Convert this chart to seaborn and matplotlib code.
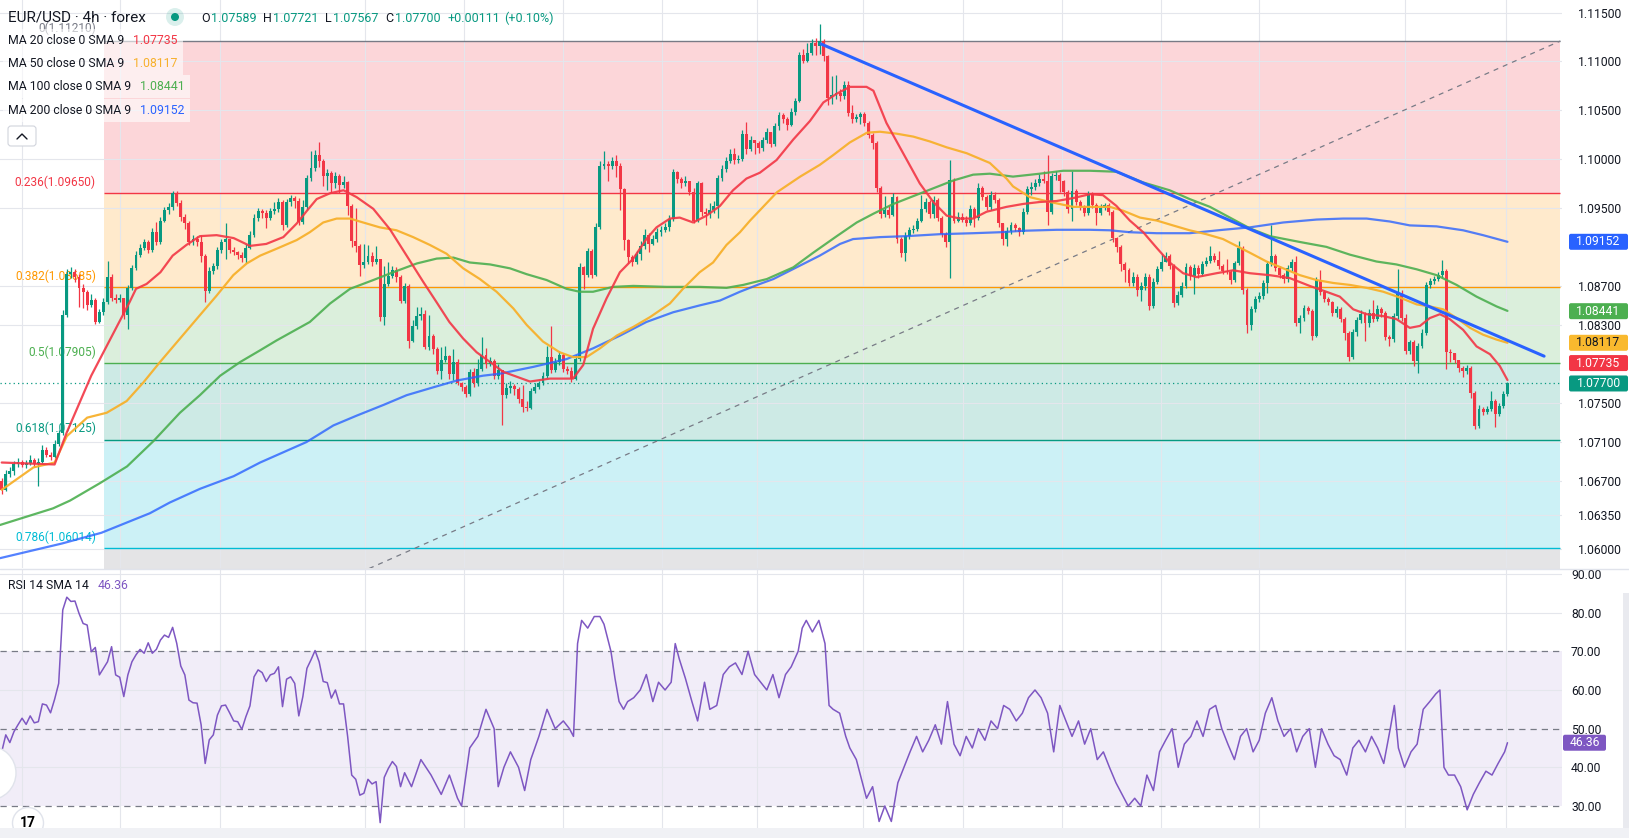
import numpy as np
import pandas as pd
import seaborn as sns
import matplotlib.pyplot as plt
from matplotlib.patches import Rectangle, Circle, FancyBboxPatch
from matplotlib.lines import Line2D
from matplotlib.transforms import IdentityTransform

W, H = 1629, 838

# EUR/USD 4h candles, in pips above 1.0000 (661 -> 1.0661)
first_open = 670
closes = [
    661, 677, 680, 687, 690, 686, 689, 692, 687, 690, 702, 697, 695, 708, 719, 840, 882, 884, 879, 868,
    864, 850, 856, 833, 843, 853, 879, 858, 856, 858, 840, 868, 888, 902, 909, 915, 907, 925, 915, 937,
    948, 951, 965, 955, 941, 934, 915, 918, 915, 901, 865, 885, 890, 907, 915, 918, 907, 905, 902, 899,
    909,
    922, 940, 947, 945, 940, 947, 949, 956, 932, 956, 960, 957, 935, 951, 981, 991, 1004, 998, 983, 986,
    975, 983, 973, 976, 952, 916, 911, 891, 894, 901, 894, 898, 838, 872, 880, 886, 879, 855, 870, 814,
    829, 839, 841, 807, 819, 805, 783, 794, 798, 780, 792, 770, 766, 759, 782, 770, 785, 799, 790, 793,
    778, 784,
    758, 765, 767, 764, 754, 746, 745, 762, 766, 770, 778, 797, 784, 792, 799, 785, 783, 775, 795, 889,
    881, 906, 881, 930, 993, 995, 993, 998, 993, 969, 917, 900, 895, 903, 911, 922, 913, 918, 925, 927,
    930, 939, 987, 980, 975, 978, 966, 937, 975, 946, 944, 948, 952, 981, 990, 998, 1005, 999, 1000, 1026,
    1010,
    1020, 1016, 1011, 1020, 1028, 1015, 1034, 1045, 1041, 1035, 1048, 1060, 1107, 1100, 1109,
    1119, 1116, 1121, 1106, 1063, 1066, 1068, 1065, 1076, 1047, 1041, 1043, 1046, 1037, 1025, 1016, 970, 944,
    948, 943, 961, 918, 904, 921, 927, 928, 937, 949, 956, 944, 958, 940, 923, 915, 979, 937, 941, 938,
    934, 949, 940, 970, 961, 951, 963, 958, 934,
    918, 926, 932, 929, 925, 946, 969, 971, 975, 980, 978, 946, 983, 984, 977, 966, 949, 967, 956, 951,
    945, 964, 953, 945, 950, 953, 946, 919, 910, 892, 886, 873, 879, 866, 870, 879, 849, 874, 887, 895,
    901, 890, 852, 861, 870, 889, 880, 888, 882, 892, 896, 901, 897, 890, 885, 884, 876, 893, 909, 866,
    830,
    846, 857, 860, 873, 892, 901, 888, 881, 877, 888, 894, 832, 837, 847, 844, 819, 876, 864, 857, 853,
    842, 846, 836, 822, 797, 823, 835, 841, 832, 842, 836, 846, 842, 818, 816, 839, 863, 837, 803, 812,
    793, 808, 822, 871, 875, 877, 881, 885, 802, 801, 794, 786, 783, 786, 760, 726, 744, 741, 744, 752,
    739, 747, 759, 770,
]
highs = [
    673, 681, 684, 691, 694, 692, 692, 697, 694, 694, 707, 705, 700, 712, 722, 845, 887, 889, 887, 882,
    872, 866, 862, 858, 846, 858, 896, 882, 862, 862, 858, 871, 891, 906, 913, 918, 917, 929, 936, 941,
    951, 955, 967, 967, 958, 944, 937, 922, 921, 922, 903, 889, 893, 910, 918, 934, 918, 910, 906, 905,
    913,
    926, 944, 950, 949, 948, 950, 956, 960, 958, 959, 963, 962, 960, 958, 984, 1008, 1009, 1017, 1000, 990,
    988, 987, 985, 983, 978, 954, 950, 913, 913, 912, 905, 911, 898, 890, 895, 890, 889, 881, 873, 872,
    835, 848, 848, 845, 840, 821, 807, 807, 808, 799, 805, 795, 772, 768, 785, 786, 795, 818, 806, 797,
    795, 790,
    772, 770, 773, 769, 766, 768, 752, 765, 770, 773, 782, 808, 829, 796, 803, 801, 788, 787, 799, 893,
    890, 909, 908, 934, 998, 1008, 998, 1002, 1004, 996, 970, 918, 902, 906, 916, 928, 924, 922, 929, 931,
    934, 943, 990, 988, 982, 983, 974, 970, 978, 976, 950, 955, 957, 984, 994, 1002, 1010, 1011, 1004, 1030,
    1038,
    1024, 1020, 1018, 1023, 1032, 1028, 1037, 1048, 1047, 1043, 1052, 1063, 1110, 1113, 1119,
    1123, 1124, 1138, 1123, 1107, 1085, 1086, 1072, 1080, 1080, 1055, 1046, 1048, 1048, 1039, 1027, 1018, 972,
    962, 952, 965, 962, 920, 925, 930, 932, 940, 963, 960, 958, 962, 960, 942, 925, 999, 981, 946, 945,
    942, 953, 951, 975, 972, 963, 967, 966, 960,
    933, 930, 935, 934, 930, 950, 972, 976, 980, 985, 988, 1004, 986, 988, 986, 979, 968, 988, 969, 958,
    953, 967, 966, 955, 954, 955, 955, 948, 920, 912, 895, 888, 884, 882, 874, 883, 882, 878, 890, 903,
    905, 903, 892, 865, 874, 893, 891, 892, 891, 896, 900, 911, 904, 906, 892, 898, 886, 896, 916, 911,
    868,
    849, 860, 864, 876, 896, 932, 903, 890, 883, 891, 898, 901, 840, 850, 849, 846, 879, 886, 866, 859,
    855, 849, 848, 838, 824, 826, 838, 845, 843, 846, 856, 850, 848, 844, 820, 842, 887, 866, 841, 815,
    815, 811, 826, 874, 878, 880, 884, 897, 887, 805, 797, 793, 788, 789, 788, 762, 748, 746, 747, 762,
    754, 750, 762, 772,
]
lows = [
    657, 660, 674, 676, 684, 684, 683, 686, 684, 665, 688, 695, 692, 694, 706, 717, 838, 878, 874, 848,
    847, 845, 848, 831, 832, 840, 851, 855, 852, 853, 836, 826, 866, 886, 900, 907, 904, 905, 912, 913,
    935, 944, 948, 952, 937, 928, 912, 912, 911, 895, 854, 863, 882, 887, 904, 898, 904, 902, 898, 895,
    893,
    908, 920, 937, 940, 929, 938, 944, 946, 927, 930, 952, 950, 932, 933, 948, 977, 988, 992, 972, 968,
    965, 970, 965, 970, 943, 910, 905, 880, 888, 892, 890, 892, 834, 830, 870, 878, 874, 852, 852, 806,
    812, 826, 835, 805, 804, 800, 780, 775, 792, 775, 774, 768, 762, 756, 757, 766, 767, 783, 786, 788,
    775, 775,
    727, 755, 760, 758, 750, 741, 742, 744, 760, 764, 768, 776, 781, 782, 789, 782, 780, 772, 774, 793,
    867, 879, 878, 880, 928, 990, 978, 990, 982, 948, 907, 893, 890, 892, 897, 908, 905, 912, 915, 921,
    925, 926, 937, 975, 970, 972, 963, 934, 935, 942, 932, 940, 945, 940, 978, 987, 996, 995, 996, 998,
    1005,
    1008, 1005, 1006, 1008, 1016, 1012, 1013, 1030, 1037, 1030, 1034, 1045, 1058, 1098, 1099,
    1107, 1107, 1108, 1100, 1055, 1056, 1062, 1060, 1062, 1044, 1037, 1038, 1036, 1034, 1022, 1010, 966, 940,
    941, 940, 942, 914, 900, 896, 918, 924, 926, 935, 946, 940, 940, 937, 920, 910, 878, 934, 935, 935,
    931, 932, 930, 938, 958, 948, 948, 955, 930,
    912, 911, 923, 926, 921, 923, 944, 963, 968, 972, 975, 932, 944, 979, 966, 962, 945, 937, 953, 948,
    942, 943, 950, 932, 943, 948, 943, 915, 905, 885, 874, 870, 870, 860, 855, 866, 845, 847, 872, 885,
    894, 887, 848, 850, 859, 868, 876, 862, 878, 880, 890, 893, 894, 887, 882, 882, 872, 874, 891, 862,
    822,
    825, 843, 854, 857, 863, 890, 885, 878, 873, 874, 885, 829, 822, 834, 841, 815, 818, 861, 853, 850,
    839, 838, 833, 815, 793, 795, 819, 832, 814, 828, 833, 834, 838, 815, 808, 813, 836, 834, 800, 800,
    788, 781, 806, 820, 868, 872, 875, 878, 785, 792, 791, 782, 777, 780, 755, 723, 724, 738, 739, 742,
    725, 737, 745, 757,
]

# moving averages: (candle index, pips)
ma20 = [(0, 689), (13, 687), (16, 720), (22, 778), (25, 802), (28, 826), (31.5, 854), (33, 867), (35.6, 872),
        (39, 884), (42, 901), (45.4, 912), (48.7, 921), (52.8, 922), (57, 919), (61, 911), (65, 913),
        (69.2, 920), (72.5, 934), (75, 947), (77.4, 959), (80.7, 965), (84, 968), (87.2, 961), (91.3, 949),
        (95.4, 928), (99.5, 901), (103.6, 874), (106.9, 853), (110, 833), (113.4, 816), (116.7, 802),
        (120, 792), (123.2, 782), (126.5, 777), (129.8, 772), (134.7, 775), (140.4, 775), (142.9, 789),
        (145.3, 826), (148.6, 857), (151.9, 884), (155.2, 898), (158.4, 918), (160.9, 930), (164.2, 939),
        (166.6, 940), (169.9, 935), (173.2, 942), (176.5, 952), (179.7, 968), (183, 980), (186.3, 986),
        (190.4, 999), (194.5, 1020), (198.6, 1039), (201.9, 1058), (205.2, 1067), (208.4, 1074),
        (212.5, 1074), (214.2, 1070), (217.4, 1037), (221.5, 1006), (225.6, 975), (228.9, 956),
        (232.2, 942), (235.5, 939), (238.7, 939), (242, 946), (246.9, 951), (251, 954), (255.1, 956),
        (259.2, 957), (263.3, 960), (267.4, 964), (270.6, 963), (273.9, 952), (277.2, 937), (280.5, 925),
        (283.8, 909), (287, 894), (290.3, 883), (293.6, 879), (298.5, 883), (302.6, 886), (306.7, 883),
        (311.6, 881), (316.5, 878), (321.4, 870), (325.5, 864), (328.8, 859), (332.1, 846), (335.4, 841),
        (339.5, 839), (342.7, 836), (346, 827), (348.5, 829), (350.9, 837), (353.4, 841), (355.8, 836),
        (359.1, 825), (362.4, 808), (365.7, 800), (368.1, 788), (370, 773.5)]
ma50 = [(0, 661), (7.8, 684), (13, 689), (16, 716), (21, 735), (25.8, 740), (30.7, 752), (34.8, 771),
        (38.9, 792), (43.8, 816), (48.7, 840), (52.8, 860), (56.9, 881), (60.2, 893), (63.5, 901),
        (67.5, 908), (72.5, 917), (75.7, 925), (79, 935), (82.3, 939), (85.6, 939), (88.8, 935),
        (92.9, 930), (97, 927), (101.1, 920), (105.2, 912), (109.3, 903), (113.4, 888), (117.5, 877),
        (121.6, 864), (125.7, 847), (129, 830), (133, 813), (137.1, 802), (140.4, 797), (143.7, 797),
        (147, 806), (151.1, 819), (155.2, 828), (159.3, 838), (164.2, 852), (167.4, 867), (171.5, 884),
        (174.8, 894), (178.1, 912), (181.4, 925), (183.9, 937), (185.5, 944), (190.5, 966), (193.7, 975),
        (196.2, 982), (201, 994), (204.3, 1004), (208.4, 1017), (212.6, 1027), (215.8, 1028),
        (219.9, 1026), (224, 1023), (228.1, 1018), (232.2, 1012), (237.1, 1006), (242.8, 996),
        (246.9, 980), (248.5, 972), (252.6, 961), (257.6, 956), (263.3, 951), (267.4, 951), (272.3, 951),
        (275.6, 947), (279.7, 940), (283.8, 937), (287.8, 932), (291.9, 927), (296, 923), (300.1, 918),
        (303.4, 911), (306.7, 904), (310.8, 895), (314.9, 888), (319, 881), (323.1, 876), (327.2, 873),
        (331.3, 871), (335.4, 868), (339.5, 864), (343.6, 858), (347.7, 851), (350.9, 849), (354.2, 846),
        (357.5, 837), (360.8, 827), (364, 820), (367.3, 815), (370, 811.7)]
ma100 = [(-0.4, 625), (12.6, 642), (16.8, 650), (24.2, 668), (30.8, 685), (37.3, 711), (43.8, 740),
         (48.7, 758), (53.7, 778), (58.6, 792), (63.5, 804), (67.5, 814), (75.7, 833), (80.7, 852),
         (85.6, 867), (91.3, 876), (96.2, 884), (102, 893), (106.9, 898), (111, 899), (115, 894), (120, 892),
         (124.9, 888), (129, 882), (133.9, 876), (138.8, 867), (142, 864), (145.3, 864), (150.2, 869),
         (155.2, 870), (163.4, 869), (171.5, 869), (178.1, 868), (182.2, 871), (188, 877), (194.5, 889),
         (199.4, 904), (205.2, 921), (210.1, 935), (214.2, 944), (219.1, 954), (224, 962), (228.9, 970),
         (233.8, 978), (238.7, 984), (242.8, 985), (248.5, 982), (255.1, 985), (260.8, 988), (267.4, 988),
         (273.9, 987), (280.5, 976), (287, 968), (291.9, 959), (296.9, 951), (301.8, 940), (306.7, 929),
         (311.6, 921), (319, 915), (325.5, 910), (331.3, 902), (337.8, 895), (342.7, 892), (347.7, 887),
         (352.6, 881), (357.5, 871), (362.4, 859), (367.3, 849), (370, 844.4)]
ma200 = [(-0.4, 591), (14.8, 606), (24.5, 617), (36.4, 637), (41.3, 648), (48.7, 662), (57, 675),
         (63.5, 689), (74.9, 710), (81.5, 727), (87.2, 737), (93.8, 748), (99.5, 758), (106, 766),
         (111.8, 773), (118.3, 778), (122.4, 780), (130.6, 787), (138.8, 795), (145.3, 806), (151.9, 819),
         (158.4, 833), (165, 843), (171.5, 850), (176.5, 855), (181.4, 864), (186.3, 872), (189.6, 877),
         (195.3, 889), (201, 901), (206, 913), (209.2, 918), (215.8, 920), (222.4, 921), (230.5, 923),
         (238.7, 924), (245.3, 925), (251, 926.5), (259.2, 927.5), (267.4, 927.5), (272.3, 927),
         (277.2, 925), (283.8, 924), (291.9, 924), (300.1, 927.5), (306.7, 930), (314.9, 935), (323.1, 938),
         (329.6, 939), (335.4, 939), (341.1, 936), (346, 932), (352.6, 931), (359.1, 927), (364, 922),
         (370, 915.2)]
ma_legend = [("MA 20 close 0 SMA 9", "1.07735", "#f23645", 40.5),
             ("MA 50 close 0 SMA 9", "1.08117", "#f7b02c", 63),
             ("MA 100 close 0 SMA 9", "1.08441", "#4caf50", 86.5),
             ("MA 200 close 0 SMA 9", "1.09152", "#2962ff", 110)]

# RSI 14: one value per candle for the first 100, then traced points
rsi_head = [44, 48.4, 46.4, 49.2, 51, 52.7, 51.1, 53.3, 51.5, 51.8,
            56.4, 56.1, 54.1, 57.6, 61.7, 80.7, 84, 82.9, 83, 79.8,
            77.2, 76.8, 69.9, 71, 63.9, 65.6, 67.3, 71.2, 63.9, 63.3,
            58.3, 63.9, 67.3, 69.1, 70.5, 69.5, 72.2, 69.5, 70.5, 72.9,
            74.2, 73.6, 76.2, 72.1, 66.2, 63.9, 57.4, 56.7, 56.6, 51,
            41, 47.1, 48.4, 53.5, 55.9, 56.1, 54.1, 52, 51.8, 49.8,
            53.1, 55.9, 63.4, 65.2, 64.5, 62.2, 63.9, 64.3, 66, 55.7,
            62.8, 63.4, 61.7, 53.3, 58.3, 65.6, 67.8, 70.2, 67.3, 62.2,
            61.9, 57.9, 60, 56.4, 56.4, 48, 38, 36.9, 32.8, 33.3,
            36.9, 35.7, 36.3, 25.7, 37.4, 39.7, 41.5, 40.2, 35, 38.6]
rsi_tail = [(100.7, 35), (103, 42), (105.5, 38), (108, 33), (110, 38), (112, 32), (113, 30), (115, 45),
            (117, 48), (119, 55), (121, 50), (122, 35), (123.4, 40), (125, 44), (127, 40), (128.5, 34),
            (130, 42), (132, 48), (134, 55), (136, 50), (138, 52), (139.5, 50), (140.5, 48), (141.5, 72),
            (142.5, 78), (144, 76), (145.6, 79), (147, 79), (148, 77), (149.7, 70), (150.7, 63), (151.7, 57),
            (152.8, 55), (153.8, 57), (155.3, 58), (156.9, 60), (158.4, 64), (160, 57), (161.4, 62),
            (163, 60), (164.5, 62), (165.5, 72), (166.5, 68), (168, 63), (169.6, 57), (171, 52), (172.7, 62),
            (174, 55), (175.7, 56), (177.3, 64), (178.8, 66), (180.3, 67), (181.9, 64), (183.4, 70),
            (185, 64), (186.5, 62), (188, 60), (189.5, 64), (191, 58), (192.6, 64), (194, 66), (195.7, 70),
            (196.7, 76), (197.7, 78), (199.2, 75), (200.8, 78), (202.3, 72), (203.3, 56), (204.3, 55),
            (205.9, 54), (207.4, 48), (208.4, 45), (210, 42), (211, 38), (212.5, 32), (214, 35), (215.6, 26),
            (217, 30), (218.6, 26), (220.2, 36), (221.7, 40), (223.2, 44), (224.8, 48), (226.3, 44),
            (227.8, 47), (229.4, 51), (230.9, 46), (232.4, 57), (234, 46), (235.5, 43), (237, 48),
            (238.5, 45), (240, 50), (241.6, 47), (243.1, 52), (244.7, 50), (246.2, 56), (247.7, 55),
            (249.3, 52), (250.8, 54), (252.3, 58), (253.9, 60), (255.4, 58), (257, 54), (258.5, 44),
            (260, 56), (261.5, 52), (263, 48), (264.6, 52), (266.1, 46), (267.6, 50), (269.2, 42),
            (270.7, 44), (272.2, 40), (273.8, 36), (275.3, 33), (276.8, 30), (278.4, 32), (279.9, 30),
            (281.4, 38), (283, 34), (284.5, 44), (286, 47), (287.6, 50), (289.1, 40), (290.6, 46),
            (292.2, 48), (293.7, 52), (295.2, 48), (296.8, 55), (298.3, 56), (299.8, 50), (301.3, 46),
            (302.9, 42), (304.4, 48), (305.9, 50), (307.5, 44), (309, 47), (310.5, 54), (312.1, 58),
            (313.6, 52), (315.1, 48), (316.7, 50), (318.2, 44), (319.7, 48), (321.3, 50), (322.8, 40),
            (324.3, 50), (325.9, 46), (327.4, 43), (328.9, 42), (330.5, 38), (332, 45), (333.5, 47),
            (335.1, 44), (336.6, 48), (338.1, 45), (339.6, 41), (341.2, 50), (342.2, 56), (343.2, 45),
            (344.7, 40), (346.3, 44), (347.8, 46), (349.3, 55), (350.9, 57), (352.4, 59), (353.4, 60),
            (354.4, 40), (355.5, 38), (357, 38), (358.5, 35), (360.1, 29), (361.6, 33), (363.1, 36),
            (364.7, 39), (366.2, 38), (367.7, 41), (369.3, 44), (370, 46.36)]

# fib retracement drawing and trend line
fib_levels = [0, 0.236, 0.382, 0.5, 0.618, 0.786, 1.0]
fib_colors = ["#787b86", "#f23645", "#ff9800", "#4caf50", "#089981", "#00bcd4", "#787b86"]
fib_high, fib_low = 1.11210, 1.045998
fib_span = (25.1, 383.0)
trend = [(201.3, 1.1118), (379.0, 1.0798)]

price_ticks = [1.115, 1.11, 1.105, 1.10, 1.095, 1.087, 1.083, 1.075, 1.071, 1.067, 1.0635, 1.06]
rsi_ticks = [90, 80, 70, 60, 50, 40, 30]
time_grid = [5, 29, 53.6, 89.3, 113.6, 137.9, 162.2, 185.6, 211.6, 236.2, 260.5, 284.8, 308.9, 344.8, 369.6]
price_boxes = [(1.09152, "#2962ff", "white", 0), (1.08441, "#4caf50", "white", 0),
               (1.08117, "#f9b92e", "#131722", 0), (1.07735, "#f23645", "white", 17),
               (1.07700, "#089981", "white", 0)]

UP, DOWN = "#089981", "#f23645"
TXT = "#131722"

sns.set_theme(style="white")
plt.rcParams["font.family"] = ["Roboto", "DejaVu Sans"]

df = pd.DataFrame({"close": closes, "high": highs, "low": lows}) / 1e4 + 1
df["open"] = df["close"].shift(1)
df.loc[0, "open"] = 1 + first_open / 1e4
df["high"] = df[["high", "open", "close"]].max(axis=1)
df["low"] = df[["low", "open", "close"]].min(axis=1)
df["i"] = np.arange(len(df))
col = np.where(df["close"] >= df["open"], UP, DOWN)

fig = plt.figure(figsize=(W / 100, H / 100), dpi=100)
ax = fig.add_axes([0, 1 - 568 / H, 1562 / W, 568 / H])
rx = fig.add_axes([0, 10 / H, 1562 / W, 258 / H])
for a in (ax, rx):
    a.set_xlim(-0.42, 383.4)
    a.set_xticks([])
    for s in a.spines.values():
        s.set_visible(False)
ax.set_ylim(1.05809, 1.11630)
rx.set_ylim(24.31, 91.03)

# grid
ax.hlines(price_ticks, -1, 390, color="#e4e6ec", lw=0.8, zorder=0.8)
ax.vlines(time_grid, 1.0, 1.2, color="#e4e6ec", lw=0.8, zorder=0.8)
rx.hlines([90, 80, 60, 40], -1, 390, color="#e4e6ec", lw=0.8, zorder=0.8)
rx.vlines(time_grid, 0, 100, color="#e4e6ec", lw=0.8, zorder=0.8)

# fib bands, lines and labels
lv = [fib_high - r * (fib_high - fib_low) for r in fib_levels]
x0, x1 = fib_span
for k in range(len(lv) - 1):
    ax.fill_between([x0, x1], lv[k + 1], lv[k], color=fib_colors[k + 1], alpha=0.2, lw=0, zorder=0.5)
for r, p, c in zip(fib_levels[:-1], lv[:-1], fib_colors[:-1]):
    ax.hlines(p, x0, x1, color=c, lw=1.0, zorder=1)
    ax.annotate(f"{r:g}({p:.5f})", xy=(x0, p), xytext=(-8, 13 if r == 0 else 11),
                textcoords="offset pixels", ha="right", va="center", color=c, fontsize=8.6, zorder=1.1)
ax.plot([x0, x1], [fib_low, fib_high], color="#787b86", lw=0.9, ls=(0, (4, 4)), zorder=1.2)
ax.axhline(df["close"].iloc[-1], color=UP, lw=0.9, ls=(0, (1, 2.5)), zorder=1.3)

# candles
ax.vlines(df["i"], df["low"], df["high"], colors=col, lw=0.9, zorder=3)
body = (df["close"] - df["open"]).abs().clip(lower=0.00009)
ax.bar(df["i"], body, bottom=df[["open", "close"]].min(axis=1), width=0.72, color=col, lw=0, zorder=3.1)

# moving averages
for pts, c, al in ((ma200, "#2962ff", 0.8), (ma100, "#4caf50", 0.9),
                   (ma50, "#f7b02c", 0.95), (ma20, "#f23645", 0.9)):
    d = pd.DataFrame(pts, columns=["i", "v"])
    d["v"] = 1 + d["v"] / 1e4
    sns.lineplot(data=d, x="i", y="v", ax=ax, color=c, linewidth=1.6, alpha=al,
                 sort=False, estimator=None, zorder=4)
t = pd.DataFrame(trend, columns=["i", "v"])
sns.lineplot(data=t, x="i", y="v", ax=ax, color="#2962ff", linewidth=2.2, sort=False,
             estimator=None, zorder=5)
ax.set_xlabel("")
ax.set_ylabel("")

# RSI pane
rx.axhspan(30, 70, color="#7e57c2", alpha=0.1, lw=0, zorder=0.5)
for lvl in (70, 50, 30):
    rx.axhline(lvl, color="#787b86", lw=0.9, ls=(0, (5, 4)), zorder=1)
rsi = pd.DataFrame(list(enumerate(rsi_head)) + rsi_tail, columns=["i", "v"])
sns.lineplot(data=rsi, x="i", y="v", ax=rx, color="#7e57c2", linewidth=1.1, sort=False,
             estimator=None, zorder=3)
rx.set_xlabel("")
rx.set_ylabel("")

# right price scales
ax.yaxis.tick_right()
ax.set_yticks(price_ticks)
ax.set_yticklabels([f"{v:.5f}" for v in price_ticks])
ax.tick_params(axis="y", length=0, pad=11.5, labelsize=8.7, labelcolor=TXT)
rx.yaxis.tick_right()
rx.set_yticks(rsi_ticks)
rx.set_yticklabels([f"{v:.2f}" for v in rsi_ticks])
rx.tick_params(axis="y", length=0, pad=6.5, labelsize=8.7, labelcolor=TXT)

ID = IdentityTransform()


def axis_box(a, v, txt, bg, fg, x, w, dy=0):
    y = a.transData.transform((0, v))[1] + dy
    fig.add_artist(FancyBboxPatch((x, y - 8), w, 16, boxstyle="round,pad=0,rounding_size=2",
                                  transform=ID, fc=bg, ec="none", zorder=10))
    fig.text(x + w / 2, y, txt, transform=ID, ha="center", va="center", color=fg,
             fontsize=8.7, zorder=11)


for v, bg, fg, dy in price_boxes:
    axis_box(ax, v, f"{v:.5f}", bg, fg, 1569, 59, dy)
axis_box(rx, 46.36, "46.36", "#7e57c2", "white", 1563, 43)


def ftext(x, y, s, **kw):
    return fig.text(x, H - y, s, transform=ID, va="center", zorder=12, **kw)


# header and legends
fig.canvas.draw()
rend = fig.canvas.get_renderer()
ftext(8, 17, "EUR/USD · 4h · forex", fontsize=11, color=TXT)
fig.add_artist(Circle((175, H - 17), 9, transform=ID, fc=UP, alpha=0.15, ec="none", zorder=12))
fig.add_artist(Circle((175, H - 17), 4, transform=ID, fc=UP, ec="none", zorder=13))
x = 201
for s, c, gap in (("O", TXT, 1), ("1.07589", UP, 7), ("H", TXT, 1), ("1.07721", UP, 7),
                  ("L", TXT, 1), ("1.07567", UP, 7), ("C", TXT, 1), ("1.07700", UP, 7),
                  ("+0.00111", UP, 4), ("(+0.10%)", UP, 0)):
    tt = ftext(x, 18, s, fontsize=9, color=c)
    x = tt.get_window_extent(rend).x1 + gap

for lab, val, c, y in ma_legend:
    t1 = ftext(8, y, lab, fontsize=8.8, color=TXT)
    xv = t1.get_window_extent(rend).x1 + 9
    t2 = ftext(xv, y, val, fontsize=8.8, color=c)
    xe = t2.get_window_extent(rend).x1 + 5
    fig.add_artist(Rectangle((3, H - y - 11.5), xe - 3, 23, transform=ID, fc="white",
                             alpha=0.6, ec="none", zorder=11))

t1 = ftext(8, 585, "RSI 14 SMA 14", fontsize=8.8, color=TXT)
ftext(t1.get_window_extent(rend).x1 + 9, 585, "46.36", fontsize=8.8, color="#7e57c2")

# collapse button, pane separator, scroll/logo widgets
fig.add_artist(FancyBboxPatch((8, H - 146), 28, 20, boxstyle="round,pad=0,rounding_size=3",
                              transform=ID, fc="white", ec="#d1d4dc", lw=0.8, zorder=12))
fig.add_artist(Line2D([17, 22, 27], [H - 139, H - 134, H - 139], transform=ID, color=TXT,
                      lw=1.0, zorder=13))
fig.add_artist(Line2D([0, W], [H - 569, H - 569], transform=ID, color="#e0e3eb", lw=1.0, zorder=9))
fig.add_artist(Circle((-11, H - 773), 27, transform=ID, fc="white", ec="#e0e3eb", lw=1, zorder=12))
fig.add_artist(Circle((28, H - 823), 15.5, transform=ID, fc="white", ec="#e0e3eb", lw=1, zorder=12))
fig.text(28, H - 823, "17", transform=ID, ha="center", va="center", fontsize=10,
         fontweight="bold", color="black", zorder=13)
fig.add_artist(Rectangle((0, 0), W, 10, transform=ID, fc="#f0f1f5", ec="none", zorder=14))
fig.add_artist(Rectangle((1623, 10), 6, 235, transform=ID, fc="#e9eaef", ec="none", zorder=14))

fig.savefig("out.png", dpi=100)
